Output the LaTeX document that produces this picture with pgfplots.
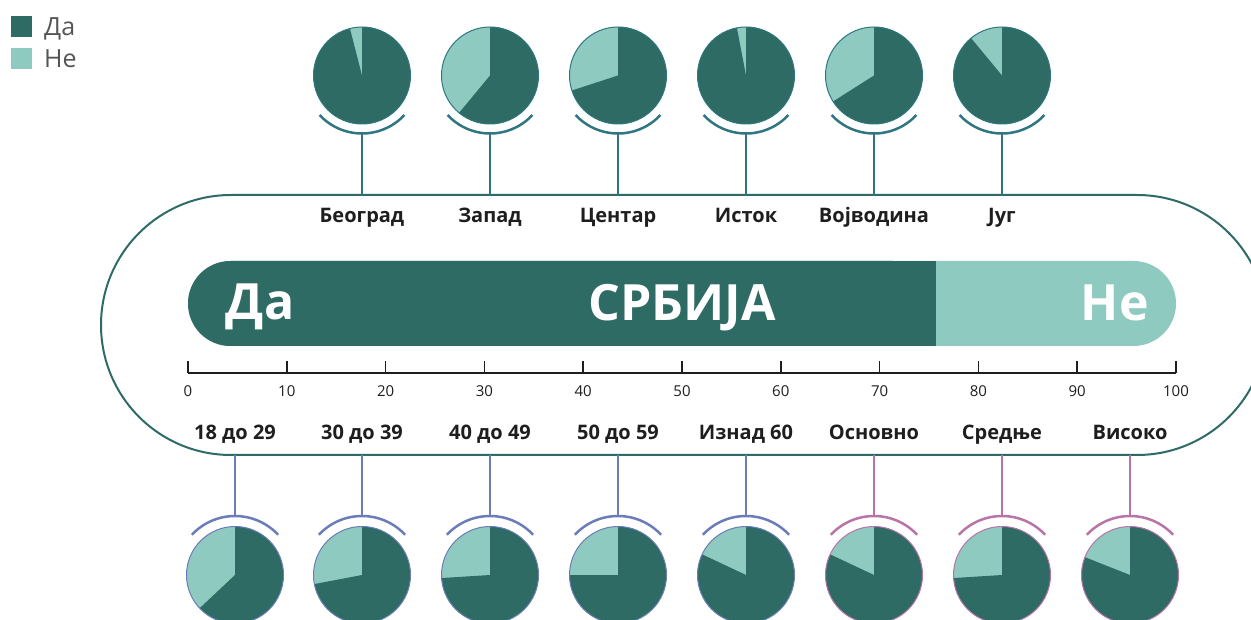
\documentclass[border=0pt]{standalone}
\usepackage{pgfplots}
\pgfplotsset{compat=1.18}
\usepackage{fontspec}
\setmainfont{Open Sans}
\definecolor{darkC}{HTML}{2E6B64}
\definecolor{lightC}{HTML}{8FCAC0}
\definecolor{frameC}{HTML}{2E6B66}
\definecolor{topC}{HTML}{2E7780}
\definecolor{ageC}{HTML}{6A7DB8}
\definecolor{eduC}{HTML}{B874A9}
\definecolor{txtC}{HTML}{1E1E1E}
\definecolor{legC}{HTML}{555555}
\newcommand\pie[4]{% x, y (px), Da percent, border colour
  \fill[lightC] (axis cs:#1,-#2) circle[radius=48.5pt];
  \fill[darkC] (axis cs:#1,-#2) -- ++(0pt,48.5pt) arc[start angle=90, delta angle={-3.6*#3}, radius=48.5pt] -- cycle;
  \draw[#4, line width=1pt] (axis cs:#1,-#2) circle[radius=48.5pt];
}
\newcommand\toppie[3]{% x, Da, label
  \pie{#1}{75.5}{#2}{topC}
  \draw[topC, line width=2.5pt] (axis cs:#1,-75.5) ++(223:58pt) arc[start angle=223, end angle=317, radius=58pt];
  \draw[topC, line width=2pt] (axis cs:#1,-133) -- (axis cs:#1,-195);
  \node[anchor=base, inner sep=0pt, font=\fontsize{20}{20}\selectfont\bfseries, text=txtC] at (axis cs:#1,-223) {#3};
}
\newcommand\botpie[4]{% x, Da, label, colour
  \pie{#1}{575}{#2}{#4}
  \draw[#4, line width=2.5pt] (axis cs:#1,-575) ++(137:59pt) arc[start angle=137, end angle=43, radius=59pt];
  \draw[#4, line width=2pt] (axis cs:#1,-455) -- (axis cs:#1,-516);
  \node[anchor=base, inner sep=0pt, font=\fontsize{20}{20}\selectfont\bfseries, text=txtC] at (axis cs:#1,-440) {#3};
}
\begin{document}
\begin{tikzpicture}
\useasboundingbox (0,0) rectangle (1251pt,619pt);
\begin{axis}[at={(0,0)}, anchor=south west, width=1251pt, height=619pt, scale only axis,
  xmin=0, xmax=1251, ymin=-619, ymax=0, hide axis, clip=true]
% legend
\fill[darkC] (axis cs:11,-16) rectangle (axis cs:32,-37);
\fill[lightC] (axis cs:11,-48) rectangle (axis cs:32,-69);
\node[anchor=base west, inner sep=0pt, text=legC, font=\fontsize{25}{25}\selectfont] at (axis cs:44,-36) {Да};
\node[anchor=base west, inner sep=0pt, text=legC, font=\fontsize{25}{25}\selectfont] at (axis cs:44,-68) {Не};
% frame
\draw[frameC, line width=2pt, rounded corners=130pt] (axis cs:101,-195) rectangle (axis cs:1267,-455);
% region pies
\toppie{362}{96}{Београд}
\toppie{490}{61}{Запад}
\toppie{618}{70}{Центар}
\toppie{746}{97}{Исток}
\toppie{874}{66}{Војводина}
\toppie{1002}{89}{Југ}
% age / education pies
\botpie{235}{63}{18 до 29}{ageC}
\botpie{362}{72}{30 до 39}{ageC}
\botpie{490}{74}{40 до 49}{ageC}
\botpie{618}{75}{50 до 59}{ageC}
\botpie{746}{82}{Изнад 60}{ageC}
\botpie{874}{82}{Основно}{eduC}
\botpie{1002}{74}{Средње}{eduC}
\botpie{1130}{81}{Високо}{eduC}
\end{axis}
\begin{axis}[at={(188pt,246pt)}, anchor=south west, width=988pt, height=112pt, scale only axis,
  xmin=0, xmax=100, ymin=0, ymax=112, clip=false,
  axis x line=bottom, axis y line=none, axis line style={-, line width=1.5pt, color=txtC},
  xtick={0,10,...,100}, tick align=inside, major tick length=12pt,
  tick style={line width=1.5pt, color=txtC},
  xticklabel style={font=\fontsize{15}{15}\selectfont, text=txtC, yshift=-9pt},
  /pgf/number format/assume math mode=true]
\addplot[fill=lightC, draw=none, rounded corners=42.5pt] coordinates {(0,27) (100,27) (100,112) (0,112)} -- cycle;
\addplot[fill=darkC, draw=none, rounded corners=42.5pt] coordinates {(0,27) (75.7,27) (75.7,112) (0,112)} -- cycle;
\addplot[fill=darkC, draw=none] coordinates {(40,27) (75.7,27) (75.7,112) (40,112)} -- cycle;
\node[anchor=base, inner sep=0pt, text=white, font=\fontsize{50}{50}\selectfont\bfseries] at (axis cs:7.3,53) {Да};
\node[anchor=base, inner sep=0pt, text=white, font=\fontsize{50}{50}\selectfont\bfseries] at (axis cs:50,52) {СРБИЈА};
\node[anchor=base, inner sep=0pt, text=white, font=\fontsize{50}{50}\selectfont\bfseries] at (axis cs:93.8,52) {Не};
\end{axis}
\end{tikzpicture}
\end{document}
